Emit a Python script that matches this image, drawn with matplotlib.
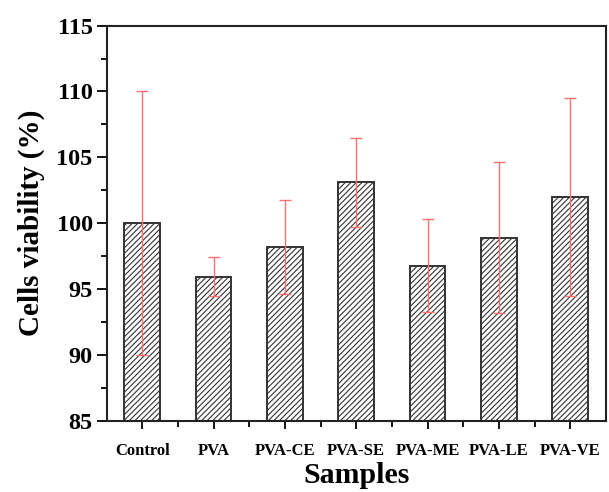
import numpy as np
import matplotlib.pyplot as plt
from matplotlib.ticker import MultipleLocator

samples = ["Control", "PVA", "PVA-CE", "PVA-SE", "PVA-ME", "PVA-LE", "PVA-VE"]
viability = [100.0, 95.94, 98.18, 103.1, 96.75, 98.9, 101.97]
errors = [10.0, 1.47, 3.55, 3.4, 3.53, 5.75, 7.5]

plt.rcParams["font.family"] = ["Liberation Serif", "DejaVu Serif"]
plt.rcParams["font.weight"] = "bold"
plt.rcParams["hatch.linewidth"] = 0.8
plt.rcParams["hatch.color"] = "#333333"

fig = plt.figure(figsize=(6.09, 4.92), dpi=100)
ax = fig.add_axes([0.175, 0.145, 0.82, 0.803])

x = np.arange(len(samples))
ax.bar(x, viability, width=0.5, color="white", edgecolor="#333333",
       linewidth=1.4, hatch="//////", zorder=2)
ax.errorbar(x, viability, yerr=errors, fmt="none", ecolor="#ff7070",
            elinewidth=1.0, capsize=4, capthick=1.0, zorder=3)

ax.set_xlim(-0.5, len(samples) - 0.5)
ax.set_ylim(85, 115)
ax.set_xticks(x)
ax.set_xticklabels(samples, fontsize=12, fontweight="bold")
ax.set_xticks(x[:-1] + 0.5, minor=True)
ax.yaxis.set_major_locator(MultipleLocator(5))
ax.yaxis.set_minor_locator(MultipleLocator(2.5))
ax.tick_params(axis="y", which="major", labelsize=17.5, length=7, width=1.3, pad=3)
ax.tick_params(axis="y", which="minor", length=4, width=1.3)
ax.tick_params(axis="x", which="major", length=6, width=1.3, pad=10)
ax.tick_params(axis="x", which="minor", length=4, width=1.3)
for lbl in ax.get_yticklabels():
    lbl.set_fontweight("bold")

for sp in ax.spines.values():
    sp.set_linewidth(1.5)
    sp.set_color("#222222")

ax.set_xlabel("Samples", fontsize=21.5, fontweight="bold", labelpad=2)
ax.set_ylabel("Cells viability (%)", fontsize=21, fontweight="bold", labelpad=8)

fig.savefig("out.png", dpi=100)
